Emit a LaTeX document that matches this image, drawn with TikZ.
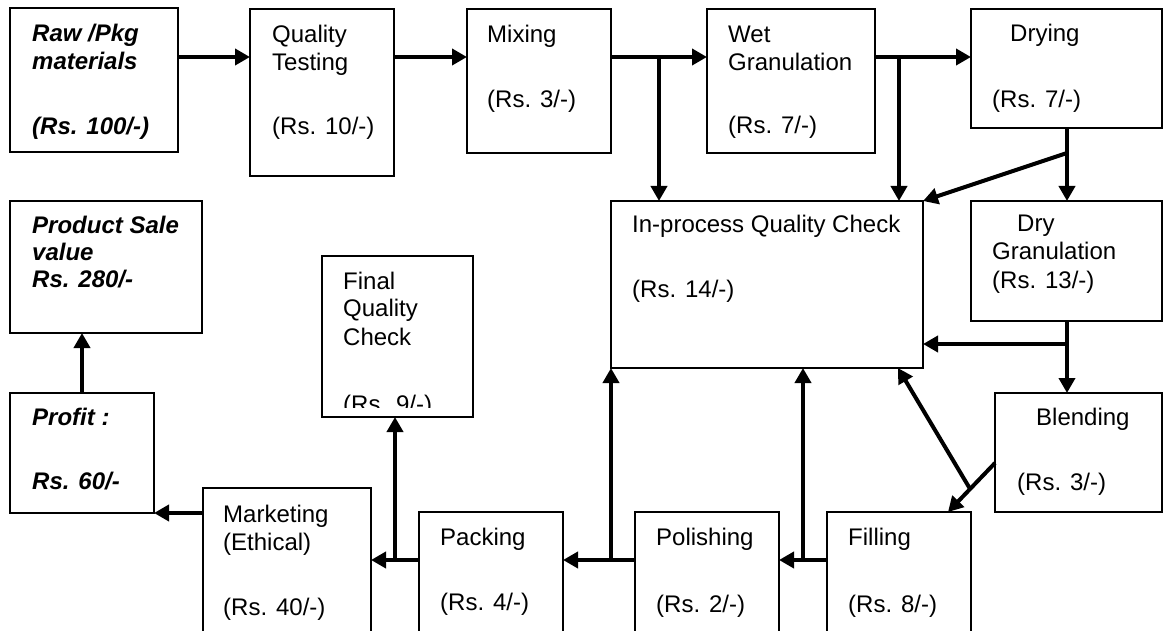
\documentclass[tikz,border=0pt]{standalone}
\usepackage{fontspec}
\setmainfont{Liberation Sans}
\usetikzlibrary{arrows.meta,calc}
\begin{document}
\begin{tikzpicture}[x=1pt,y=-1pt,
  box/.style={draw,line width=1.3pt,rectangle,inner sep=0pt,outer sep=0pt},
  arr/.style={line width=4pt,-{Triangle[length=15pt,width=16pt]}},
  link/.style={line width=4pt},
  tx/.style={anchor=base west,inner sep=0pt,font=\fontsize{24}{28}\selectfont},
  tb/.style={tx,font=\fontsize{24}{28}\selectfont\bfseries\itshape}]
\clip (0,0) rectangle (1163,631);

% ---------- process boxes ----------
\node[box,minimum width=168pt,minimum height=144pt] (raw)   at (94,80) {};
\node[box,minimum width=144pt,minimum height=167pt] (qt)    at (322,92.5) {};
\node[box,minimum width=144pt,minimum height=144pt] (mix)   at (539,81) {};
\node[box,minimum width=168pt,minimum height=144pt] (wet)   at (791,81) {};
\node[box,minimum width=191pt,minimum height=119pt] (dry)   at (1066.5,68.5) {};
\node[box,minimum width=312pt,minimum height=167pt] (ipq)   at (767,284.5) {};
\node[box,minimum width=191pt,minimum height=120pt] (dgr)   at (1066.5,261) {};
\node[box,minimum width=167pt,minimum height=119pt] (blend) at (1078.5,452.5) {};
\node[box,minimum width=144pt,minimum height=144pt] (fill)  at (899,584) {};
\node[box,minimum width=144pt,minimum height=144pt] (pol)   at (707,584) {};
\node[box,minimum width=144pt,minimum height=144pt] (pack)  at (491,584) {};
\node[box,minimum width=168pt,minimum height=168pt] (mkt)   at (287,572) {};
\node[box,minimum width=144pt,minimum height=120pt] (profit) at (82,453) {};
\node[box,minimum width=192pt,minimum height=132pt] (sale)  at (106,267) {};
\node[box,minimum width=151pt,minimum height=161pt] (fqc)   at (397.5,336.5) {};

% ---------- box texts ----------
\node[tb] (raw1) at (32,42)  {Raw /Pkg};
\node[tb] (raw2) at (32,70)  {materials};
\node[tb] (raw3) at (32,135) {(Rs. 100/-)};

\node[tx] (qt1) at (272,43)  {Quality};
\node[tx] (qt2) at (272,71)  {Testing};
\node[tx] (qt3) at (272,135) {(Rs. 10/-)};

\node[tx] (mix1) at (487,43)  {Mixing};
\node[tx] (mix2) at (487,108) {(Rs. 3/-)};

\node[tx] (wet1) at (728,43)  {Wet};
\node[tx] (wet2) at (728,71)  {Granulation};
\node[tx] (wet3) at (728,134) {(Rs. 7/-)};

\node[tx] (dry1) at (1010,42) {Drying};
\node[tx] (dry2) at (992,108) {(Rs. 7/-)};

\node[tx] (ipq1) at (632,233) {In-process Quality Check};
\node[tx] (ipq2) at (632,298) {(Rs. 14/-)};

\node[tx] (dgr1) at (1017,232) {Dry};
\node[tx] (dgr2) at (992,260)  {Granulation};
\node[tx] (dgr3) at (992,289)  {(Rs. 13/-)};

\node[tx] (blend1) at (1036,425) {Blending};
\node[tx] (blend2) at (1017,490) {(Rs. 3/-)};

\node[tx] (fill1) at (848,545) {Filling};
\node[tx] (fill2) at (848,612) {(Rs. 8/-)};

\node[tx] (pol1) at (656,545) {Polishing};
\node[tx] (pol2) at (656,612) {(Rs. 2/-)};

\node[tx] (pack1) at (440,545) {Packing};
\node[tx] (pack2) at (440,610) {(Rs. 4/-)};

\node[tx] (mkt1) at (223,522) {Marketing};
\node[tx] (mkt2) at (223,550) {(Ethical)};
\node[tx] (mkt3) at (223,615) {(Rs. 40/-)};

\node[tb] (profit1) at (32,425) {Profit :};
\node[tb] (profit2) at (32,489) {Rs. 60/-};

\node[tb] (sale1) at (32,234) {Product Sale};
\node[tb] (sale2) at (32,261) {value};
\node[tb] (sale3) at (32,288) {Rs. 280/-};

\node[tx] (fqc1) at (343,290) {Final};
\node[tx] (fqc2) at (343,317) {Quality};
\node[tx] (fqc3) at (343,345) {Check};
\begin{scope}
  \clip (322,256) rectangle (473,407);
  \node[tx] (fqc4) at (343,412) {(Rs. 9/-)};
\end{scope}

% ---------- rails and junctions ----------
\coordinate (top)  at (0,57);
\coordinate (bot)  at (0,560);
\coordinate (jmix) at (659,57);
\coordinate (jwet) at (899,57);
\coordinate (jdry) at (1067,153);
\coordinate (jdgr) at (1067,344);
\coordinate (jfil) at (803,560);
\coordinate (jpol) at (611,560);
\coordinate (jpak) at (395,560);
\coordinate (bf1)  at (995,463);
\coordinate (bf2)  at (948,512);

% ---------- connectors ----------
\draw[arr] (raw.east |- top) -- (qt.west |- top);
\draw[arr] (qt.east |- top) -- (mix.west |- top);
\draw[arr] (mix.east |- top) -- (wet.west |- top);
\draw[arr] (jmix) -- (jmix |- ipq.north);
\draw[arr] (wet.east |- top) -- (dry.west |- top);
\draw[arr] (jwet) -- (jwet |- ipq.north);

\draw[arr] (jdry |- dry.south) -- (jdry |- dgr.north);
\draw[arr] (jdry) -- (ipq.north east);

\draw[arr] (jdgr |- dgr.south) -- (jdgr |- blend.north);
\draw[arr] (jdgr) -- (ipq.east |- jdgr);

\draw[arr] (bf1) -- (bf2);
\draw[arr] ($(bf1)!0.53!(bf2)$) -- (898,368);

\draw[arr] (fill.west |- bot) -- (pol.east |- bot);
\draw[arr] (jfil) -- (jfil |- ipq.south);
\draw[arr] (pol.west |- bot) -- (pack.east |- bot);
\draw[arr] (jpol) -- (ipq.south west);
\draw[arr] (pack.west |- bot) -- (mkt.east |- bot);
\draw[arr] (jpak) -- (jpak |- fqc.south);

\draw[arr] (mkt.west |- profit.south) -- (profit.south east);
\draw[arr] (profit.north) -- (profit.north |- sale.south);
\end{tikzpicture}
\end{document}
